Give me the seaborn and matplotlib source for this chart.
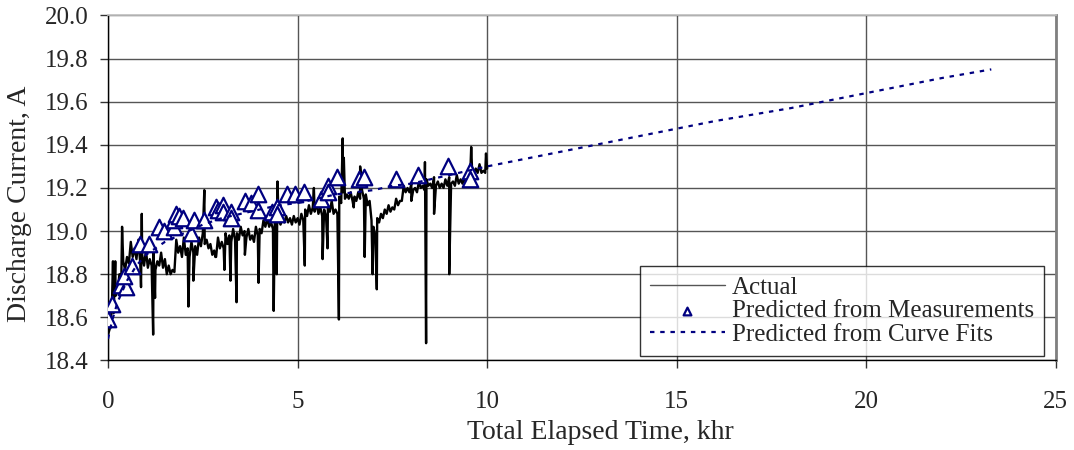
import numpy as np
import pandas as pd
import matplotlib
matplotlib.use('Agg')
from matplotlib import pyplot as plt
import seaborn as sns

# Mesures brutes ("Actual"), temps en khr, courant en A : haut de la bande
base_t = [0.0, 0.1, 0.2, 0.3, 0.4, 0.5, 0.6, 0.7, 0.8, 0.9,
          1.0, 1.1, 1.2, 1.3, 1.4, 1.5, 1.6, 1.7, 1.8, 1.9,
          2.0, 2.1, 2.2, 2.3, 2.4, 2.5, 2.6, 2.7, 2.8, 2.9,
          3.0, 3.1, 3.2, 3.3, 3.4, 3.5, 3.6, 3.7, 3.8, 3.9,
          4.0, 4.1, 4.2, 4.3, 4.4, 4.5, 4.6, 4.7, 4.8, 4.9,
          5.0, 5.1, 5.2, 5.3, 5.4, 5.5, 5.6, 5.7, 5.8, 5.9,
          6.0, 6.1, 6.2, 6.3, 6.4, 6.5, 6.6, 6.7, 6.8, 6.9,
          7.0, 7.1, 7.2, 7.3, 7.4, 7.5, 7.6, 7.7, 7.8, 7.9,
          8.0, 8.1, 8.2, 8.3, 8.4, 8.5, 8.6, 8.7, 8.8, 8.9,
          9.0, 9.1, 9.2, 9.3, 9.4, 9.5, 9.6, 9.7, 9.8, 9.9, 10.0]
base_v = [18.52, 18.64, 18.70, 18.80, 18.86, 18.88, 18.95, 18.92, 18.96, 18.89,
          18.91, 18.87, 18.90, 18.86, 18.90, 18.87, 18.84, 18.82, 18.96, 18.93,
          18.97, 18.92, 18.95, 18.93, 18.97, 18.99, 18.96, 18.94, 18.91, 18.97,
          18.95, 18.99, 18.98, 19.01, 18.99, 19.02, 19.00, 19.01, 18.98, 19.02,
          19.01, 19.05, 19.06, 19.04, 19.06, 19.05, 19.06, 19.07, 19.06, 19.07,
          19.06, 19.08, 19.10, 19.12, 19.11, 19.13, 19.11, 19.10, 19.12, 19.14,
          19.10, 19.16, 19.18, 19.17, 19.18, 19.16, 19.18, 19.19, 19.17, 19.14,
          19.02, 19.06, 19.08, 19.10, 19.12, 19.11, 19.15, 19.14, 19.21, 19.20,
          19.22, 19.20, 19.23, 19.21, 19.24, 19.22, 19.25, 19.23, 19.22, 19.24,
          19.25, 19.23, 19.26, 19.24, 19.25, 19.25, 19.30, 19.29, 19.31, 19.28, 19.29]

# Bas de la bande de bruit
low_t = [0.05, 0.15, 0.25, 0.35, 0.45, 0.55, 0.65, 0.75, 0.85, 0.95,
         1.05, 1.15, 1.25, 1.35, 1.45, 1.55, 1.65, 1.75, 1.85, 1.95,
         2.05, 2.15, 2.25, 2.35, 2.45, 2.55, 2.65, 2.75, 2.85, 2.95,
         3.05, 3.15, 3.25, 3.35, 3.45, 3.55, 3.65, 3.75, 3.85, 3.95,
         4.05, 4.15, 4.25, 4.35, 4.45, 4.55, 4.65, 4.75, 4.85, 4.95,
         5.05, 5.15, 5.25, 5.35, 5.45, 5.55, 5.65, 5.75, 5.85, 5.95,
         6.05, 6.15, 6.25, 6.35, 6.45, 6.55, 6.65, 6.75, 6.85, 6.95,
         7.05, 7.15, 7.25, 7.35, 7.45, 7.55, 7.65, 7.75, 7.85, 7.95,
         8.05, 8.15, 8.25, 8.35, 8.45, 8.55, 8.65, 8.75, 8.85, 8.95,
         9.05, 9.15, 9.25, 9.35, 9.45, 9.55, 9.65, 9.75, 9.85, 9.95]
low_v = [18.55, 18.62, 18.72, 18.78, 18.82, 18.85, 18.88, 18.87, 18.85, 18.84,
         18.83, 18.84, 18.82, 18.84, 18.83, 18.80, 18.80, 18.81, 18.90, 18.88,
         18.89, 18.88, 18.90, 18.89, 18.93, 18.94, 18.92, 18.89, 18.88, 18.92,
         18.92, 18.94, 18.95, 18.96, 18.96, 18.98, 18.97, 18.96, 18.95, 18.98,
         18.99, 19.02, 19.02, 19.01, 19.03, 19.03, 19.04, 19.04, 19.03, 19.04,
         19.03, 19.05, 19.07, 19.08, 19.09, 19.08, 19.07, 19.07, 19.09, 19.08,
         19.08, 19.13, 19.15, 19.15, 19.14, 19.14, 19.15, 19.15, 19.12, 19.05,
         18.98, 19.04, 19.06, 19.08, 19.09, 19.10, 19.12, 19.14, 19.18, 19.18,
         19.19, 19.18, 19.20, 19.19, 19.21, 19.20, 19.21, 19.20, 19.20, 19.21,
         19.22, 19.21, 19.22, 19.22, 19.22, 19.24, 19.27, 19.27, 19.27, 19.27]

# Pics isolés de la mesure
spike_t = [0.13, 0.19, 0.37, 0.87, 0.89, 1.19, 1.24, 2.12, 2.25, 2.54,
           2.83, 3.07, 3.23, 3.39, 3.61, 3.97, 4.37, 4.45, 4.47, 5.19,
           5.43, 5.66, 5.79, 6.09, 6.19, 6.22, 6.48, 6.65, 6.77, 6.98,
           7.09, 8.0, 8.36, 8.39, 8.6, 9.0, 9.58, 9.97]
spike_v = [18.86, 18.86, 19.02, 18.74, 19.08, 18.52, 18.69, 18.65, 18.77, 19.19,
           18.88, 18.82, 18.77, 18.67, 18.89, 18.76, 18.63, 18.80, 19.23, 18.84,
           19.20, 18.87, 18.92, 18.59, 19.43, 19.34, 19.11, 19.30, 18.88, 18.80,
           18.73, 19.14, 19.32, 18.48, 19.08, 18.80, 19.39, 19.36]

# Prédictions à partir des mesures
meas_t = [0.0, 0.10, 0.34, 0.47, 0.43, 0.62, 0.83, 1.09, 1.34, 1.48,
          1.73, 1.75, 1.79, 1.86, 1.97, 2.18, 2.26, 2.52, 2.85, 2.91,
          3.04, 3.04, 3.25, 3.25, 3.60, 3.77, 3.95, 3.95, 4.32, 4.47,
          4.47, 4.73, 4.94, 5.17, 5.62, 5.79, 5.79, 6.04, 6.61, 6.75,
          7.59, 8.18, 8.96, 9.55, 9.55]
meas_v = [18.59, 18.66, 18.75, 18.74, 18.79, 18.84, 18.94, 18.94, 19.02, 19.00,
          19.02, 19.05, 19.08, 19.07, 19.06, 18.99, 19.05, 19.05, 19.11, 19.10,
          19.12, 19.09, 19.09, 19.06, 19.14, 19.13, 19.17, 19.10, 19.09, 19.11,
          19.08, 19.17, 19.17, 19.18, 19.15, 19.21, 19.18, 19.25, 19.24, 19.25,
          19.24, 19.26, 19.30, 19.28, 19.24]

# Prédictions à partir des ajustements de courbes
fit_t = [0.0, 0.1, 0.25, 0.5, 0.75, 1.0, 1.5, 2.0, 2.5, 3.0, 3.5, 4.0, 4.5, 5.0,
         5.5, 6.0, 6.5, 7.0, 7.5, 8.0, 8.5, 9.0, 9.5, 10.0, 12.0, 14.0, 16.0,
         18.0, 20.0, 22.0, 23.3]
fit_v = [18.50, 18.58, 18.67, 18.77, 18.84, 18.89, 18.95, 18.99, 19.03, 19.06,
         19.08, 19.10, 19.12, 19.13, 19.15, 19.17, 19.18, 19.19, 19.21, 19.22,
         19.24, 19.26, 19.28, 19.30, 19.37, 19.44, 19.51, 19.57, 19.64, 19.71, 19.75]

df_actual = pd.DataFrame({'t': base_t + low_t + spike_t,
                          'v': base_v + low_v + spike_v}).sort_values('t', kind='stable')
df_meas = pd.DataFrame({'t': meas_t, 'v': meas_v})
df_fit = pd.DataFrame({'t': fit_t, 'v': fit_v})

sns.set_theme(style='white')
plt.rcParams['font.family'] = ['Liberation Serif', 'DejaVu Serif']
FS = 18

fig, ax = plt.subplots(figsize=(10.74, 4.5), dpi=100)
fig.subplots_adjust(left=0.1006, right=0.983, bottom=0.199, top=0.9656)

sns.lineplot(data=df_actual, x='t', y='v', sort=False, estimator=None, color='black',
             linewidth=1.7, ax=ax, label='Actual', zorder=3)
sns.scatterplot(data=df_meas, x='t', y='v', marker='^', s=125, facecolor='white',
                edgecolor='#000080', linewidth=1.6, ax=ax,
                label='Predicted from Measurements', zorder=4)
sns.lineplot(data=df_fit, x='t', y='v', estimator=None, color='#000080', linewidth=1.6,
             linestyle=(0, (2, 2.6)), ax=ax, label='Predicted from Curve Fits', zorder=5)

ax.set_xlim(0, 25)
ax.set_ylim(18.4, 20.0)
ax.set_xticks([0, 5, 10, 15, 20, 25])
ax.set_yticks(np.arange(18.4, 20.01, 0.2))
ax.set_yticklabels(['%.1f' % y for y in np.arange(18.4, 20.01, 0.2)])
ax.grid(True, color='#555555', linewidth=1.0)
ax.set_axisbelow(True)

for side in ['left', 'bottom']:
    ax.spines[side].set_color('black')
    ax.spines[side].set_linewidth(1.0)
ax.spines['top'].set_color('#c0c0c0')
ax.spines['right'].set_color('#808080')
ax.spines['right'].set_linewidth(2.0)

ax.tick_params(axis='both', which='major', direction='out', length=6, width=1.0,
               color='#333333', labelsize=FS, left=True, bottom=True)
ax.tick_params(axis='y', pad=8)
ax.tick_params(axis='x', pad=16)

ax.set_xlabel('Total Elapsed Time, khr', fontsize=20)
ax.set_ylabel('Discharge Current, A', fontsize=20)
ax.xaxis.set_label_coords(0.519, -0.172)
ax.yaxis.set_label_coords(-0.080, 0.453)

leg = ax.legend(loc='lower right', bbox_to_anchor=(0.988, 0.0125), borderaxespad=0,
                fontsize=FS, frameon=True, fancybox=False, edgecolor='black',
                handlelength=3.0, handletextpad=0.3, labelspacing=0.05,
                borderpad=0.4, markerscale=0.5)
leg.get_frame().set_linewidth(1.0)
for h in leg.legend_handles:
    if hasattr(h, 'set_linewidth') and h.get_label() == 'Actual':
        h.set_color('#555555')
        h.set_linewidth(1.0)

fig.savefig('out.png', dpi=100)
